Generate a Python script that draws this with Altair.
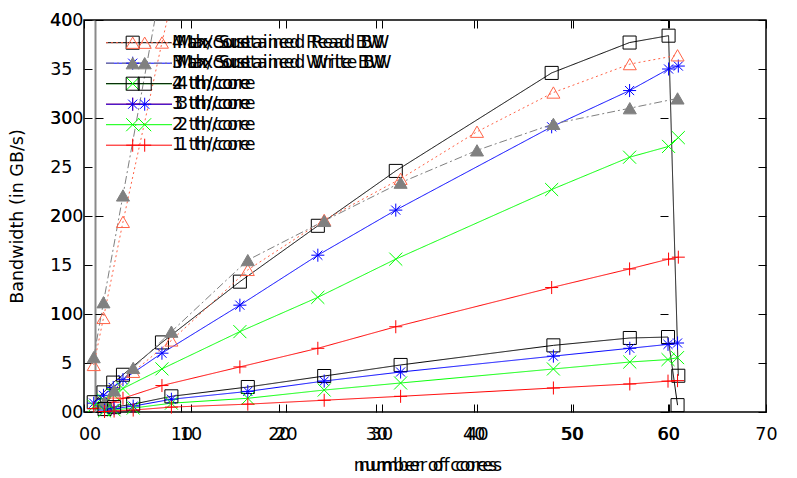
import altair as alt
import pandas as pd

# ---------------- data ----------------
SERIES = ["Max Sustained Read BW", "Max Sustained Write BW",
          "4 th/core", "3 th/core", "2 th/core", "1 th/core"]
LEGEND_SMALL = ["4 th/core", "3 th/core", "2 th/core", "1 th/core"]

# panel drawn on the 0-70 / 0-40 axes
a_cores = [1, 2, 3, 4, 8, 16, 24, 32, 48, 56, 60, 61]
a_4th = [1.0, 2.0, 3.0, 3.8, 7.1, 13.3, 19.0, 24.6, 34.6, 37.7, 38.4, 3.7]
a_3th = [0.9, 1.7, 2.5, 3.3, 6.0, 10.9, 16.0, 20.6, 29.1, 32.8, 35.0, 35.3]
a_2th = [0.6, 1.2, 1.8, 2.4, 4.4, 8.2, 11.7, 15.6, 22.7, 26.0, 27.1, 28.0]
a_1th = [0.35, 0.7, 1.0, 1.4, 2.7, 4.6, 6.5, 8.7, 12.7, 14.6, 15.6, 15.8]
a_max_cores = [1, 2, 4, 8, 16]
a_max_read = [4.8, 9.6, 19.4, 37.7, 72.0]
a_max_write = [5.6, 11.2, 22.1, 44.0, 78.0]

# panel drawn on the 0-60 / 0-400 axes
b_cores = [1, 2, 4, 8, 16, 24, 32, 48, 56, 60, 61]
b_4th = [3, 5, 8, 16, 25.5, 36.7, 48, 68, 75.5, 76.5, 7]
b_3th = [2, 3.5, 6, 13, 21, 31.6, 40.8, 57, 65, 69, 70.4]
b_2th = [1.2, 2.2, 4, 9, 14, 22.4, 29.6, 43.9, 51, 53.5, 55.5]
b_1th = [0.5, 1, 2, 5, 8, 12, 16, 24.5, 28.6, 31.5, 32]
b_max_cores = [1, 2, 4, 8, 16, 24, 32, 40, 48, 56, 61]
b_max_read = [9, 20, 41, 73, 145, 196, 238, 286, 326, 355, 364]
b_max_write = [10, 22, 45, 82, 155, 195, 234, 267, 294, 310, 320]

a_x_ticks = list(range(0, 71, 10))
a_y_ticks = list(range(0, 41, 5))
b_x_ticks = list(range(0, 61, 10))
b_y_ticks = list(range(0, 401, 100))

# ---------------- styles ----------------
FONT = "DejaVu Sans"
FS = 17.5
COLORS = ["#ff6347", "#808080", "#000000", "#0000ff", "#00ff00", "#ff0000"]
ASTERISK = "M0,-1L0,1M-1,0L1,0M-0.7,-0.7L0.7,0.7M-0.7,0.7L0.7,-0.7"
XMARK = "M-1,-1L1,1M-1,1L1,-1"
PLUS = "M-1,0L1,0M0,-1L0,1"
SHAPES = ["triangle-up", "triangle-up", "square", ASTERISK, XMARK, PLUS]
FILLS = ["transparent", "#808080", "transparent", "transparent", "transparent", "transparent"]
DASHES = [[2, 3], [8, 3, 2, 3], [1, 0], [1, 0], [1, 0], [1, 0]]


def frame(xs, ys, name):
    return pd.DataFrame({"cores": xs, "bw": ys, "series": name})


dfA = pd.concat([
    frame(a_max_cores, a_max_read, SERIES[0]),
    frame(a_max_cores, a_max_write, SERIES[1]),
    frame(a_cores, a_4th, SERIES[2]),
    frame(a_cores, a_3th, SERIES[3]),
    frame(a_cores, a_2th, SERIES[4]),
    frame(a_cores, a_1th, SERIES[5]),
], ignore_index=True)

dfB = pd.concat([
    frame(b_max_cores, b_max_read, SERIES[0]),
    frame(b_max_cores, b_max_write, SERIES[1]),
    frame(b_cores, b_4th, SERIES[2]),
    frame(b_cores, b_3th, SERIES[3]),
    frame(b_cores, b_2th, SERIES[4]),
    frame(b_cores, b_1th, SERIES[5]),
], ignore_index=True)

leg_small = pd.DataFrame({"series": LEGEND_SMALL, "row": list(range(len(LEGEND_SMALL)))})
leg_main = pd.DataFrame({"series": SERIES, "row": list(range(len(SERIES)))})

color_scale = alt.Scale(domain=SERIES, range=COLORS)
shape_scale = alt.Scale(domain=SERIES, range=SHAPES)
fill_scale = alt.Scale(domain=SERIES, range=FILLS)
dash_scale = alt.Scale(domain=SERIES, range=DASHES)

enc_line = dict(
    color=alt.Color("series:N", scale=color_scale, legend=None),
    strokeDash=alt.StrokeDash("series:N", scale=dash_scale, legend=None),
)
enc_pt = dict(
    shape=alt.Shape("series:N", scale=shape_scale, legend=None),
    stroke=alt.Stroke("series:N", scale=color_scale, legend=None),
    fill=alt.Fill("series:N", scale=fill_scale, legend=None),
)


def axis(orient, values, offset, labels=True, ticks=True, **kw):
    base = dict(orient=orient, values=values, offset=offset,
                tickSize=8 if ticks else 0, ticks=ticks, tickColor="black", tickWidth=1,
                domain=False, grid=False, labels=labels,
                labelFont=FONT, labelFontSize=FS, labelColor="black",
                labelFlush=False, labelOverlap=False, format="d",
                titleFont=FONT, titleFontSize=FS, titleFontWeight="normal",
                titleColor="black", title=None)
    base.update(kw)
    return alt.Axis(**base)


xA = alt.Scale(domain=[0, 70], nice=False, zero=False)
yA = alt.Scale(domain=[0, 40], nice=False, zero=False)
xB = alt.Scale(domain=[0, 60], range=[11, 584], nice=False, zero=False)
yB = alt.Scale(domain=[0, 400], nice=False, zero=False)

axA_bottom = axis("bottom", a_x_ticks, -8, labelPadding=13, title="number of cores",
                  titleX=341, titleY=61, titleBaseline="middle")
axA_left = axis("left", a_y_ticks, -8, labelPadding=12, title="Bandwidth (in GB/s)",
                titleX=-74.5, titleY=196, titleAngle=270, titleBaseline="middle")
axA_top = axis("top", a_x_ticks, -8, labels=False)
axA_right = axis("right", a_y_ticks, -8, labels=False)

axB_bottom = axis("bottom", b_x_ticks, -8, labelPadding=13, title="number of cores",
                  titleX=346, titleY=61, titleBaseline="middle")
axB_left = axis("left", b_y_ticks, -11, ticks=False, labelPadding=12,
                domain=True, domainColor="#8a8a8a", domainWidth=2)
axB_left_ticks = axis("left", b_y_ticks, -19, labels=False)
axB_top = axis("top", b_x_ticks, -8, labels=False)
axB_right = axis("right", b_y_ticks, -106, labels=False)

a_lines = alt.Chart(dfA).mark_line(clip=True, strokeWidth=1).encode(
    x=alt.X("cores:Q", scale=xA, axis=axA_bottom),
    y=alt.Y("bw:Q", scale=yA, axis=axA_left),
    **enc_line)
a_points = alt.Chart(dfA).mark_point(clip=True, filled=False, size=170, strokeWidth=1, opacity=1).encode(
    x=alt.X("cores:Q", scale=xA, axis=axA_top),
    y=alt.Y("bw:Q", scale=yA, axis=axA_right),
    **enc_pt)
b_lines = alt.Chart(dfB).mark_line(strokeWidth=1).encode(
    x=alt.X("cores:Q", scale=xB, axis=axB_bottom),
    y=alt.Y("bw:Q", scale=yB, axis=axB_left),
    **enc_line)
b_points = alt.Chart(dfB).mark_point(filled=False, size=170, strokeWidth=1, opacity=1).encode(
    x=alt.X("cores:Q", scale=xB, axis=axB_top),
    y=alt.Y("bw:Q", scale=yB, axis=axB_left_ticks),
    **enc_pt)
b_right = alt.Chart(dfB).mark_point(opacity=0).encode(
    x=alt.X("cores:Q", scale=xB, axis=None),
    y=alt.Y("bw:Q", scale=yB, axis=axB_right))

# ---------------- legends ----------------
ly = alt.Y("row:Q", scale=alt.Scale(domain=[0, 5], range=[22.7, 125.2], nice=False, zero=False), axis=None)


def leg_line(df):
    return alt.Chart(df).mark_rule(strokeWidth=1).encode(
        x=alt.value(22), x2=alt.value(88), y=ly, **enc_line)


def leg_marker(df, xpos):
    return alt.Chart(df).mark_point(filled=False, size=170, strokeWidth=1, opacity=1).encode(
        x=alt.value(xpos), y=ly, **enc_pt)


def leg_text(df, xpos):
    return alt.Chart(df).mark_text(align="left", baseline="middle", font=FONT,
                                   fontSize=FS, color="black").encode(
        x=alt.value(xpos), y=ly, text="series:N")


layers = [
    a_lines, a_points, b_lines, b_points, b_right,
    leg_line(leg_small), leg_line(leg_main),
    leg_marker(leg_small, 48.7), leg_marker(leg_main, 48.7), leg_marker(leg_main, 60.7),
    leg_text(leg_small, 88), leg_text(leg_main, 88), leg_text(leg_main, 93),
]

chart = alt.layer(*layers).resolve_scale(
    x="independent", y="independent"
).properties(
    width=682, height=392,
    autosize=alt.AutoSizeParams(type="none"),
    padding={"left": 76, "top": 12, "right": 15, "bottom": 64},
).configure_view(stroke="black", strokeWidth=1.5)

chart.save("out.html", embed_options={"renderer": "svg", "actions": False})
